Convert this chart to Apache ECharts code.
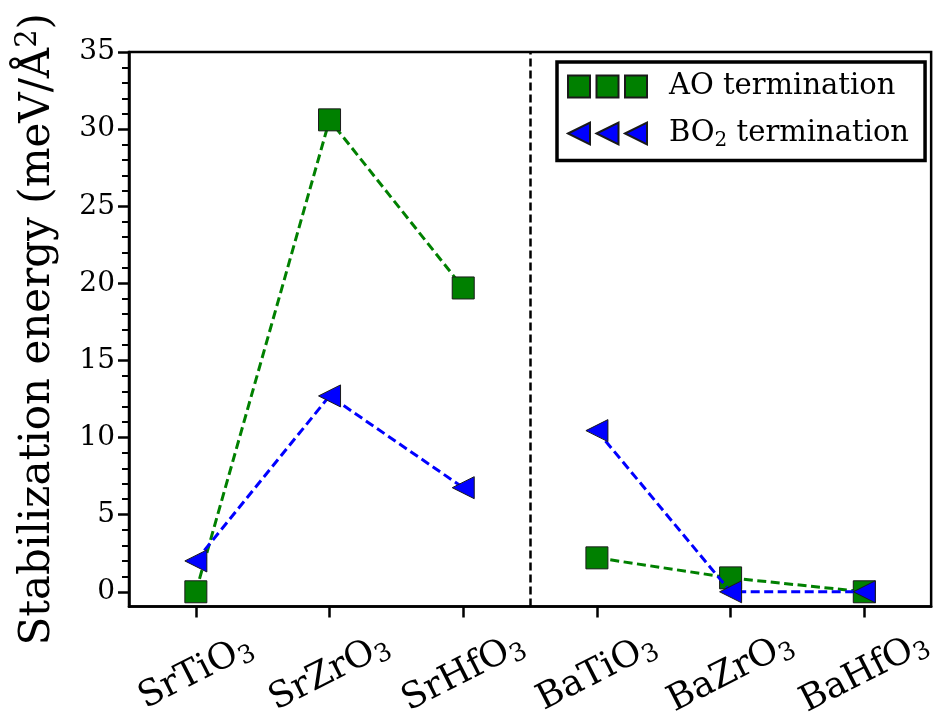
<!DOCTYPE html>
<html>
<head>
<meta charset="utf-8">
<script src="https://cdn.jsdelivr.net/npm/echarts@6/dist/echarts.min.js"></script>
<style>
  html, body { margin: 0; padding: 0; background: #fff; }
  #chart { width: 938px; height: 724px; }
</style>
</head>
<body>
<div id="chart"></div>
<script>
// Perovskite compounds along the x axis (formula body + subscript)
const compoundBase = ['SrTiO', 'SrZrO', 'SrHfO', 'BaTiO', 'BaZrO', 'BaHfO'];
const compoundSub = ['3', '3', '3', '3', '3', '3'];
// Index ranges of the Sr- and Ba-based groups (lines are drawn per group)
const srGroup = [0, 1, 2];
const baGroup = [3, 4, 5];
// Stabilization energies, meV/Å^2
const aoValues = [0.0, 30.6, 19.7, 2.2, 0.9, 0.0];
const bo2Values = [2.0, 12.7, 6.75, 10.45, 0.0, 0.0];
// Y axis major tick values
const yMajorTicks = [0, 5, 10, 15, 20, 25, 30, 35];
// Boundary between the Sr and Ba groups
const groupDivider = 2.5;

const FONT = 'DejaVu Serif';
const yMinorTicks = [];
for (let v = 0; v <= 35; v++) if (v % 5 !== 0) yMinorTicks.push(v);
const xTicks = compoundBase.map((_, i) => i);

function pairs(values, idx) {
  return idx.map(i => [i, values[i]]);
}

const aoStyle = {
  type: 'line',
  name: 'AO termination',
  symbol: 'rect',
  symbolSize: 22,
  itemStyle: { color: '#008000', borderColor: '#1a1a1a', borderWidth: 1 },
  lineStyle: { color: '#008000', width: 3, type: [9, 4.5] },
  z: 2,
  animation: false
};
const triLeft = 'path://M0,11L22,0L22,22Z';
const bo2Style = {
  type: 'line',
  name: 'BO2 termination',
  symbol: triLeft,
  symbolSize: 22,
  itemStyle: { color: '#0000ff', borderColor: '#1a1a1a', borderWidth: 1 },
  lineStyle: { color: '#0000ff', width: 3, type: [9, 4.5] },
  z: 3,
  animation: false
};

const chart = echarts.init(document.getElementById('chart'), null, { renderer: 'canvas' });
chart.setOption({
  backgroundColor: '#fff',
  animation: false,
  grid: {
    left: 129, top: 52, width: 806, height: 555,
    show: true, borderColor: '#000', borderWidth: 2.5, backgroundColor: 'transparent'
  },
  legend: {
    orient: 'vertical',
    left: 557, top: 62,
    width: 370,
    itemWidth: 79, itemHeight: 22, itemGap: 18,
    padding: [10, 16, 10, 10],
    borderColor: '#000', borderWidth: 3.5,
    backgroundColor: '#fff',
    data: [
      { name: 'AO termination', icon: 'path://M0,0H22V22H0Z M28.5,0H50.5V22H28.5Z M57,0H79V22H57Z' },
      { name: 'BO2 termination', icon: 'path://M0,11L22,0V22Z M28.5,11L50.5,0V22Z M57,11L79,0V22Z' }
    ],
    formatter: function (name) {
      if (name === 'BO2 termination') return '{t|BO}{s|2}{u| termination}';
      return '{t|AO}{u| termination}';
    },
    textStyle: {
      fontFamily: FONT, color: '#000',
      rich: {
        t: { fontFamily: FONT, fontSize: 29, lineHeight: 34, color: '#000', padding: [0, 0, 0, 17] },
        s: { fontFamily: FONT, fontSize: 20, lineHeight: 26, color: '#000', verticalAlign: 'bottom' },
        u: { fontFamily: FONT, fontSize: 29, lineHeight: 34, color: '#000' }
      }
    }
  },
  xAxis: {
    type: 'value', min: -0.5, max: 5.5,
    axisLine: { show: true, onZero: false, lineStyle: { color: '#000', width: 2.5 } },
    axisTick: { show: true, length: 11, customValues: xTicks, lineStyle: { color: '#000', width: 2.5 } },
    splitLine: { show: false },
    axisLabel: {
      customValues: xTicks,
      rotate: 27,
      margin: 66,
      align: 'center',
      verticalAlign: 'middle',
      formatter: function (v) {
        const i = Math.round(v);
        return '{a|' + compoundBase[i] + '}{b|' + compoundSub[i] + '}';
      },
      rich: {
        a: { fontFamily: FONT, fontSize: 36, lineHeight: 42, color: '#000' },
        b: { fontFamily: FONT, fontSize: 25, lineHeight: 29, color: '#000', verticalAlign: 'bottom' }
      }
    }
  },
  yAxis: [
    {
      type: 'value', min: -0.96, max: 35, position: 'left',
      axisLine: { show: true, onZero: false, lineStyle: { color: '#000', width: 2.5 } },
      axisTick: { show: true, length: 11, customValues: yMajorTicks, lineStyle: { color: '#000', width: 2.5 } },
      splitLine: { show: false },
      axisLabel: { customValues: yMajorTicks, fontFamily: FONT, fontSize: 28, color: '#000', margin: 14 },
      name: '{t|Stabilization energy (meV/Å}{p|2}{t|)}',
      nameLocation: 'middle',
      nameRotate: 90,
      nameGap: 67,
      nameTextStyle: {
        rich: {
          t: { fontFamily: FONT, fontSize: 42, lineHeight: 48, color: '#000' },
          p: { fontFamily: FONT, fontSize: 29, lineHeight: 30, color: '#000', verticalAlign: 'top' }
        }
      }
    },
    {
      type: 'value', min: -0.96, max: 35, position: 'left',
      axisLine: { show: false, onZero: false },
      axisTick: { show: true, length: 7, customValues: yMinorTicks, lineStyle: { color: '#000', width: 2 } },
      axisLabel: { show: false },
      splitLine: { show: false }
    }
  ],
  series: [
    Object.assign({}, aoStyle, {
      data: pairs(aoValues, srGroup),
      markLine: {
        silent: true,
        symbol: 'none',
        label: { show: false },
        lineStyle: { color: '#000', width: 2.5, type: [8, 4] },
        data: [{ xAxis: groupDivider }]
      }
    }),
    Object.assign({}, aoStyle, { data: pairs(aoValues, baGroup) }),
    Object.assign({}, bo2Style, { data: pairs(bo2Values, srGroup) }),
    Object.assign({}, bo2Style, { data: pairs(bo2Values, baGroup) })
  ]
});
</script>
</body>
</html>
